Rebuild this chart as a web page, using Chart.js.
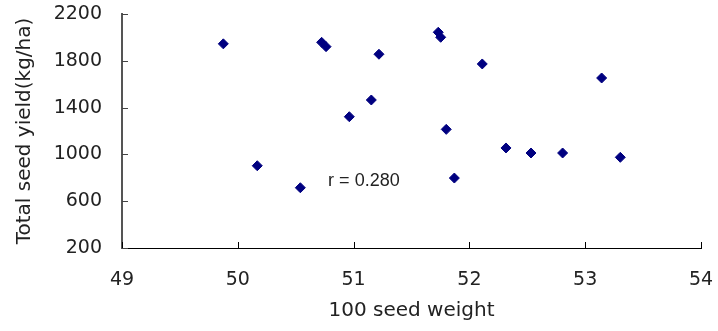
<!DOCTYPE html>
<html>
<head>
<meta charset="utf-8">
<script src="https://cdn.jsdelivr.net/npm/chart.js@4/dist/chart.umd.min.js"></script>
<style>
html,body{margin:0;padding:0;background:#fff;}
#wrap{width:718px;height:331px;}
</style>
</head>
<body>
<div id="wrap"><canvas id="c" width="718" height="331"></canvas></div>
<script>
const seedWeight = [49.875, 50.724, 50.762, 50.963, 50.168, 50.540, 51.219, 51.153, 51.731, 51.752, 52.111, 53.142, 51.800, 52.316, 52.532, 52.805, 53.303, 51.870];
const seedYield  = [1945, 1958, 1921, 1322, 903, 715, 1856, 1465, 2044, 2001, 1773, 1653, 1214, 1055, 1012, 1012, 975, 798];
const xTicks = [49, 50, 51, 52, 53, 54];
const yTicks = [200, 600, 1000, 1400, 1800, 2200];
const xTitle = '100 seed weight';
const yTitle = 'Total seed yield(kg/ha)';
const annotationText = 'r = 0.280';
const annotationAt = [50.78, 773];

const points = seedWeight.map((x, i) => ({x: x, y: seedYield[i]}));
const FONT = 'DejaVu Sans';

const innerTicks = {
  id: 'innerTicks',
  afterDraw(chart) {
    const ctx = chart.ctx;
    const xs = chart.scales.x, ys = chart.scales.y;
    const a = chart.chartArea;
    ctx.save();
    ctx.lineWidth = 1;
    ctx.strokeStyle = '#000';
    xTicks.forEach(v => {
      const px = Math.round(xs.getPixelForValue(v)) + 0.5;
      ctx.beginPath();
      ctx.moveTo(px, a.bottom);
      ctx.lineTo(px, a.bottom - 6);
      ctx.stroke();
    });
    ctx.strokeStyle = '#444';
    yTicks.forEach(v => {
      const py = Math.round(ys.getPixelForValue(v)) + 0.5;
      ctx.beginPath();
      ctx.moveTo(a.left, py);
      ctx.lineTo(a.left + 6, py);
      ctx.stroke();
    });
    ctx.fillStyle = '#222';
    ctx.font = '18px "Liberation Sans"';
    ctx.textAlign = 'left';
    ctx.textBaseline = 'middle';
    ctx.fillText(annotationText, xs.getPixelForValue(annotationAt[0]), ys.getPixelForValue(annotationAt[1]));
    ctx.restore();
  }
};

new Chart(document.getElementById('c'), {
  type: 'scatter',
  data: {
    datasets: [{
      data: points,
      pointStyle: 'rectRot',
      pointRadius: 5,
      pointHoverRadius: 5,
      backgroundColor: '#000080',
      borderColor: '#000080',
      borderWidth: 1
    }]
  },
  options: {
    responsive: false,
    animation: false,
    events: [],
    layout: {padding: {left: 0, right: 17, top: 14, bottom: 0}},
    plugins: {legend: {display: false}, tooltip: {enabled: false}},
    scales: {
      x: {
        type: 'linear',
        min: 49, max: 54,
        afterBuildTicks: s => { s.ticks = xTicks.map(v => ({value: v})); },
        afterFit: s => { s.height = 83; s.paddingLeft = 0; s.paddingRight = 0; },
        grid: {display: true, drawOnChartArea: false, drawTicks: false},
        border: {display: true, color: '#000', width: 1},
        ticks: {color: '#222', font: {family: FONT, size: 19}, padding: 21, maxRotation: 0, autoSkip: false,
                callback: v => String(v)},
        title: {display: true, text: xTitle, color: '#222', font: {family: FONT, size: 20}, padding: {top: 0, bottom: 8}}
      },
      y: {
        type: 'linear',
        min: 200, max: 2200,
        afterBuildTicks: s => { s.ticks = yTicks.map(v => ({value: v})); },
        afterFit: s => { s.width = 122; s.paddingTop = 0; s.paddingBottom = 0; },
        grid: {display: true, drawOnChartArea: false, drawTicks: false},
        border: {display: true, color: '#555', width: 2},
        ticks: {color: '#222', font: {family: FONT, size: 19}, padding: 20, autoSkip: false,
                callback: v => String(v)},
        title: {display: true, text: yTitle, color: '#222', font: {family: FONT, size: 20}, padding: {top: 13, bottom: 0}}
      }
    }
  },
  plugins: [innerTicks]
});
</script>
</body>
</html>
